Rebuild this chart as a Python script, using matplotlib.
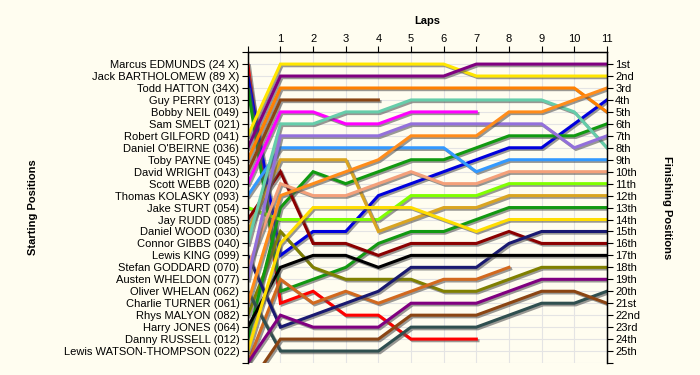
import matplotlib
matplotlib.use("Agg")
import matplotlib.pyplot as plt
import matplotlib.patheffects as pe

# starting grid order (top to bottom)
drivers = [
    "Marcus EDMUNDS (24 X)", "Jack BARTHOLOMEW (89 X)", "Todd HATTON (34X)",
    "Guy PERRY (013)", "Bobby NEIL (049)", "Sam SMELT (021)",
    "Robert GILFORD (041)", "Daniel O'BEIRNE (036)", "Toby PAYNE (045)",
    "David WRIGHT (043)", "Scott WEBB (020)", "Thomas KOLASKY (093)",
    "Jake STURT (054)", "Jay RUDD (085)", "Daniel WOOD (030)",
    "Connor GIBBS (040)", "Lewis KING (099)", "Stefan GODDARD (070)",
    "Austen WHELDON (077)", "Oliver WHELAN (062)", "Charlie TURNER (061)",
    "Rhys MALYON (082)", "Harry JONES (064)", "Danny RUSSELL (012)",
    "Lewis WATSON-THOMPSON (022)",
]

finish_labels = ["1st", "2nd", "3rd"] + [f"{n}th" for n in range(4, 21)] + \
    ["21st", "22nd", "23rd", "24th", "25th"]

# race position per lap for each car, first value = grid slot (lap 0)
laps_by_car = [
    [1, 21, 20, 22, 22, 24, 24, 24],
    [2, 17, 15, 15, 12, 11, 10, 9, 8, 8, 6, 4],
    [3, 20, 19, 18, 16, 15, 15, 14, 13, 13, 13, 13],
    [22, 15, 18, 19, 19, 19, 20, 20, 19, 18, 18, 18],
    [26, 19, 21, 20, 21, 20, 19, 19, 18],
    [24, 13, 10, 11, 10, 9, 9, 8, 7, 7, 7, 6],
    [7, 1, 1, 1, 1, 1, 1, 2, 2, 2, 2, 2],
    [8, 2, 2, 2, 2, 2, 2, 1, 1, 1, 1, 1],
    [9, 3, 3, 3, 3, 3, 3, 3, 3, 3, 3, 5],
    [10, 4, 4, 4, 4],
    [11, 5, 5, 6, 6, 5, 5, 5],
    [12, 8, 8, 8, 8, 8, 8, 10, 9, 9, 9, 9],
    [13, 14, 14, 14, 14, 12, 12, 12, 11, 11, 11, 11],
    [14, 10, 16, 16, 17, 16, 16, 16, 15, 16, 16, 16],
    [15, 9, 9, 9, 15, 14, 13, 13, 12, 12, 12, 12],
    [16, 6, 6, 5, 5, 4, 4, 4, 4, 4, 5, 8],
    [17, 23, 22, 21, 20, 18, 18, 18, 16, 15, 15, 15],
    [18, 11, 12, 12, 11, 10, 11, 11, 10, 10, 10, 10],
    [19, 7, 7, 7, 7, 6, 6, 6, 6, 6, 8, 7],
    [20, 25, 25, 25, 25, 23, 23, 23, 22, 21, 21, 20],
    [21, 12, 11, 10, 9, 7, 7, 7, 5, 5, 4, 3],
    [23, 18, 17, 17, 18, 17, 17, 17, 17, 17, 17, 17],
    [25, 16, 13, 13, 13, 13, 14, 15, 14, 14, 14, 14],
    [28, 24, 24, 24, 24, 22, 22, 22, 21, 20, 20, 21],
    [26, 22, 23, 23, 23, 21, 21, 21, 20, 19, 19, 19],
]

colors = [
    "#ff0000", "#0000dd", "#119911", "#808000", "#d2691e", "#109a10",
    "#ffe600", "#800080", "#ff8000", "#8b4513", "#ff00ff", "#3399ff",
    "#80ff00", "#8b0000", "#daa520", "#66cdaa", "#191970", "#f4a07a",
    "#9370db", "#2f4f4f", "#ff8c1a", "#000000", "#ffdd00", "#8b4513",
    "#800080",
]

bg = "#fffdf0"
plt.rcParams["font.family"] = ["Liberation Sans", "DejaVu Sans"]

fig = plt.figure(figsize=(7, 3.75), dpi=100, facecolor=bg)
ax = fig.add_axes([0.354, 0.032, 0.513, 0.829], facecolor=bg)

n_laps = 11
n_pos = len(drivers)

for pos, col in zip(laps_by_car, colors):
    ax.plot(range(len(pos)), pos, color=col, lw=2.2, solid_joinstyle="miter",
            path_effects=[pe.SimpleLineShadow(offset=(1.2, -1.2), shadow_color="#555555", alpha=0.6),
                          pe.Normal()])

ax.set_xlim(0, n_laps)
ax.set_ylim(n_pos + 1, 0)

ax.xaxis.tick_top()
ax.set_xticks(range(0, n_laps + 1))
ax.set_xticklabels([""] + [str(i) for i in range(1, n_laps + 1)], fontsize=8)
ax.set_yticks(range(0, n_pos + 2))
ax.set_yticklabels([""] + drivers + [""], fontsize=8)
ax.tick_params(axis="both", direction="out", length=4, width=0.8, pad=2, colors="black")
ax.grid(True, color="#e4e4e4", lw=0.8)
ax.set_axisbelow(True)
ax.spines["bottom"].set_visible(False)
for s in ["top", "left", "right"]:
    ax.spines[s].set_linewidth(1.0)

ax2 = ax.twinx()
ax2.set_ylim(n_pos + 1, 0)
ax2.set_yticks(range(1, n_pos + 2))
ax2.set_yticklabels(finish_labels + [""], fontsize=8)
ax2.tick_params(axis="y", direction="out", length=4, width=0.8, pad=2)
ax2.spines["bottom"].set_visible(False)

ax.set_title("Laps", fontsize=8, fontweight="bold", pad=20)
ax.set_ylabel("Starting Positions", fontsize=8, fontweight="bold")
ax2.set_ylabel("Finishing Positions", fontsize=8, fontweight="bold", rotation=270)
ax.yaxis.set_label_coords(-0.583, 0.5)
ax2.yaxis.set_label_coords(1.181, 0.5)

fig.savefig("out.png", dpi=100, facecolor=bg)
